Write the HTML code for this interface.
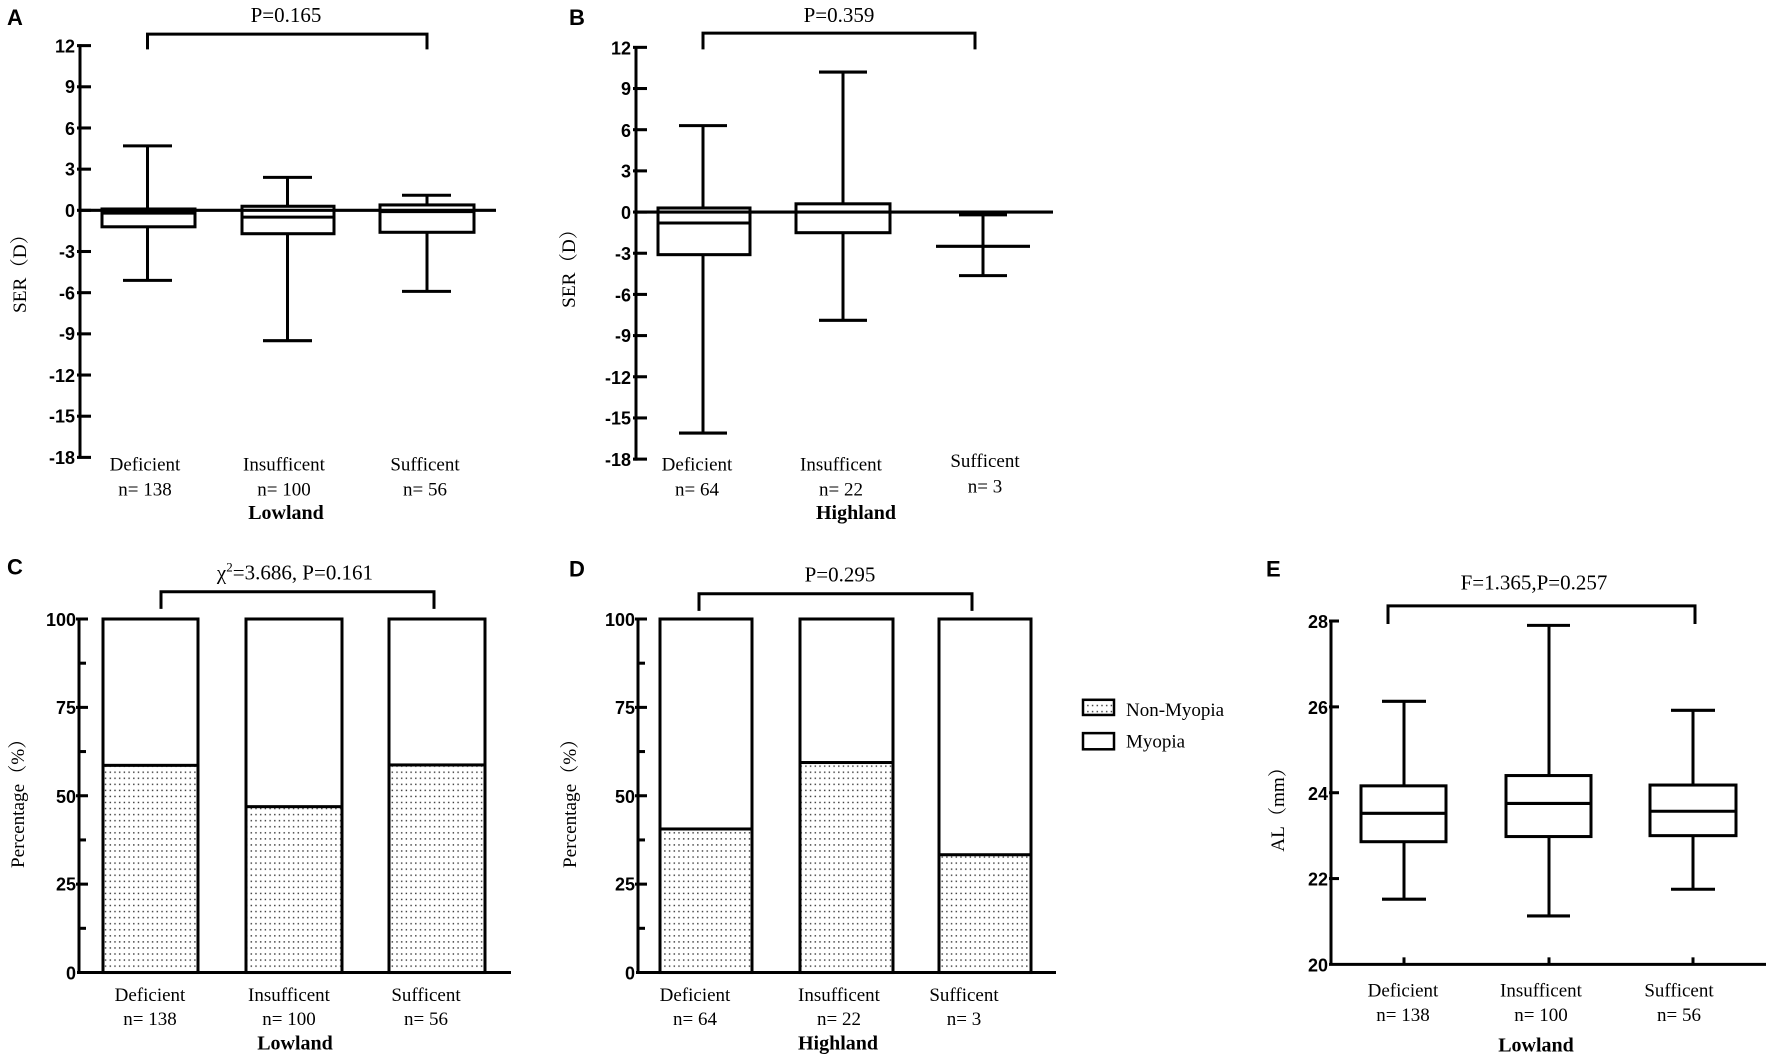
<!DOCTYPE html>
<html><head><meta charset="utf-8"><style>
html,body{margin:0;padding:0;background:#fff}
svg{display:block}
.t{font-family:"Liberation Sans",Arial,sans-serif;font-weight:bold;font-size:18px;fill:#000}
.s{font-family:"Liberation Serif","Noto Serif CJK SC",serif;font-size:19px;fill:#000}
.sb{font-family:"Liberation Serif","Noto Serif CJK SC",serif;font-size:20px;font-weight:bold;fill:#000}
.p{font-family:"Liberation Serif","Noto Serif CJK SC",serif;font-size:21px;fill:#000}
.L{font-family:"Liberation Sans",Arial,sans-serif;font-weight:bold;font-size:22px;fill:#000}
.k{stroke:#000;stroke-width:3;fill:none}
.b{stroke:#000;stroke-width:3;fill:#fff}
</style></head><body>
<svg width="1772" height="1059" viewBox="0 0 1772 1059" xmlns="http://www.w3.org/2000/svg">
<defs>
<pattern id="dots" width="4.7" height="6" patternUnits="userSpaceOnUse">
<rect width="4.7" height="6" fill="#fff"/>
<rect x="1.5" y="2" width="1.4" height="1.4" fill="#333"/>
</pattern>
</defs>

<g transform="matrix(1 0 0 1.0167 0 1.6)">
<!-- ============ Panel A ============ -->
<text x="7" y="23" class="L">A</text>
<text x="286" y="20" class="p" text-anchor="middle">P=0.165</text>
<path d="M147.5,47 V32 H427 V47" class="k" stroke-width="2.5"/>
<g class="k">
<line x1="80" y1="42" x2="80" y2="449.5"/>
<line x1="77" y1="43.3" x2="91" y2="43.3"/><line x1="77" y1="83.8" x2="91" y2="83.8"/><line x1="77" y1="124.3" x2="91" y2="124.3"/><line x1="77" y1="164.8" x2="91" y2="164.8"/><line x1="77" y1="205.3" x2="91" y2="205.3"/><line x1="77" y1="245.8" x2="91" y2="245.8"/><line x1="77" y1="286.3" x2="91" y2="286.3"/><line x1="77" y1="326.8" x2="91" y2="326.8"/><line x1="77" y1="367.3" x2="91" y2="367.3"/><line x1="77" y1="407.8" x2="91" y2="407.8"/><line x1="77" y1="448.3" x2="91" y2="448.3"/>
</g>
<g class="t" text-anchor="end">
<text x="75" y="50">12</text><text x="75" y="90">9</text><text x="75" y="131">6</text><text x="75" y="171">3</text><text x="75" y="212">0</text><text x="75" y="252">-3</text><text x="75" y="293">-6</text><text x="75" y="333">-9</text><text x="75" y="374">-12</text><text x="75" y="414">-15</text><text x="75" y="455">-18</text>
</g>
<text class="s" transform="translate(26,263) rotate(-90)" text-anchor="middle">SER（D）</text>
<g class="k">
<line x1="147.5" y1="141.9" x2="147.5" y2="274.2"/><line x1="123" y1="141.9" x2="172" y2="141.9"/><line x1="123" y1="274.2" x2="172" y2="274.2"/>
<rect x="102" y="204" width="93" height="17.5" class="b"/><line x1="102" y1="208" x2="195" y2="208"/>
<line x1="287.5" y1="172.9" x2="287.5" y2="333.5"/><line x1="263" y1="172.9" x2="312" y2="172.9"/><line x1="263" y1="333.5" x2="312" y2="333.5"/>
<rect x="242" y="201.3" width="92" height="27" class="b"/><line x1="242" y1="212" x2="334" y2="212"/>
<line x1="427" y1="190.5" x2="427" y2="285"/><line x1="402" y1="190.5" x2="451" y2="190.5"/><line x1="402" y1="285" x2="451" y2="285"/>
<rect x="380" y="200" width="94" height="26.9" class="b"/><line x1="380" y1="206.6" x2="474" y2="206.6"/>
<line x1="80" y1="205.3" x2="496" y2="205.3"/>
</g>
<g class="s" text-anchor="middle">
<text x="145" y="461">Deficient</text><text x="145" y="486">n= 138</text>
<text x="284" y="461">Insufficent</text><text x="284" y="486">n= 100</text>
<text x="425" y="461">Sufficent</text><text x="425" y="486">n= 56</text>
</g>
<text x="286" y="509" class="sb" text-anchor="middle">Lowland</text>

<!-- ============ Panel B ============ -->
<text x="569" y="23" class="L">B</text>
<text x="839" y="20" class="p" text-anchor="middle">P=0.359</text>
<path d="M703,47 V31 H975 V47" class="k" stroke-width="2.5"/>
<g class="k">
<line x1="636" y1="44" x2="636" y2="451.5"/>
<line x1="633" y1="45" x2="647" y2="45"/><line x1="633" y1="85.5" x2="647" y2="85.5"/><line x1="633" y1="126" x2="647" y2="126"/><line x1="633" y1="166.5" x2="647" y2="166.5"/><line x1="633" y1="207" x2="647" y2="207"/><line x1="633" y1="247.5" x2="647" y2="247.5"/><line x1="633" y1="288" x2="647" y2="288"/><line x1="633" y1="328.5" x2="647" y2="328.5"/><line x1="633" y1="369" x2="647" y2="369"/><line x1="633" y1="409.5" x2="647" y2="409.5"/><line x1="633" y1="450" x2="647" y2="450"/>
</g>
<g class="t" text-anchor="end">
<text x="631" y="52">12</text><text x="631" y="92">9</text><text x="631" y="133">6</text><text x="631" y="173">3</text><text x="631" y="214">0</text><text x="631" y="254">-3</text><text x="631" y="295">-6</text><text x="631" y="335">-9</text><text x="631" y="376">-12</text><text x="631" y="416">-15</text><text x="631" y="457">-18</text>
</g>
<text class="s" transform="translate(575,258) rotate(-90)" text-anchor="middle">SER（D）</text>
<g class="k">
<line x1="703" y1="122" x2="703" y2="424.4"/><line x1="679" y1="122" x2="727" y2="122"/><line x1="679" y1="424.4" x2="727" y2="424.4"/>
<rect x="658" y="203" width="92" height="45.9" class="b"/><line x1="658" y1="217.8" x2="750" y2="217.8"/>
<line x1="843" y1="69.3" x2="843" y2="313.5"/><line x1="819" y1="69.3" x2="867" y2="69.3"/><line x1="819" y1="313.5" x2="867" y2="313.5"/>
<rect x="796" y="198.9" width="94" height="28.4" class="b"/>
<line x1="983" y1="209.7" x2="983" y2="269.5"/><line x1="959" y1="209.7" x2="1007" y2="209.7"/><line x1="959" y1="269.5" x2="1007" y2="269.5"/><line x1="936" y1="240.7" x2="1030" y2="240.7"/>
<line x1="636" y1="207" x2="1053" y2="207"/>
</g>
<g class="s" text-anchor="middle">
<text x="697" y="461">Deficient</text><text x="697" y="486">n= 64</text>
<text x="841" y="461">Insufficent</text><text x="841" y="486">n= 22</text>
<text x="985" y="458">Sufficent</text><text x="985" y="483">n= 3</text>
</g>
<text x="856" y="509" class="sb" text-anchor="middle">Highland</text>
</g>

<g transform="matrix(1 0 0 1.01 0 -6.19)">
<!-- ============ Panel C ============ -->
<text x="7" y="575" class="L">C</text>
<text x="295" y="580" class="p" text-anchor="middle">χ<tspan dy="-8" font-size="13">2</tspan><tspan dy="8">=3.686,  P=0.161</tspan></text>
<path d="M161,609 V592 H434 V609" class="k" stroke-width="2.5"/>
<g class="k">
<rect x="103" y="619" width="95" height="350" class="b"/>
<rect x="103" y="763.9" width="95" height="205.1" fill="url(#dots)" stroke="#000" stroke-width="3"/>
<rect x="246" y="619" width="96" height="350" class="b"/>
<rect x="246" y="804.8" width="96" height="164.2" fill="url(#dots)" stroke="#000" stroke-width="3"/>
<rect x="389" y="619" width="96" height="350" class="b"/>
<rect x="389" y="763.5" width="96" height="205.5" fill="url(#dots)" stroke="#000" stroke-width="3"/>
<line x1="79" y1="617.5" x2="79" y2="969"/>
<line x1="77" y1="969" x2="511" y2="969"/>
<line x1="76" y1="619" x2="88" y2="619"/><line x1="76" y1="706.5" x2="88" y2="706.5"/><line x1="76" y1="794" x2="88" y2="794"/><line x1="76" y1="881.5" x2="88" y2="881.5"/>
<line x1="79" y1="662.75" x2="86" y2="662.75"/><line x1="79" y1="750.25" x2="86" y2="750.25"/><line x1="79" y1="837.75" x2="86" y2="837.75"/><line x1="79" y1="925.25" x2="86" y2="925.25"/>
</g>
<g class="t" text-anchor="end">
<text x="76" y="626">100</text><text x="76" y="713">75</text><text x="76" y="801">50</text><text x="76" y="888">25</text><text x="76" y="976">0</text>
</g>
<text class="s" transform="translate(24,797) rotate(-90)" text-anchor="middle">Percentage（%）</text>
<g class="s" text-anchor="middle">
<text x="150" y="997">Deficient</text><text x="150" y="1021">n= 138</text>
<text x="289" y="997">Insufficent</text><text x="289" y="1021">n= 100</text>
<text x="426" y="997">Sufficent</text><text x="426" y="1021">n= 56</text>
</g>
<text x="295" y="1045" class="sb" text-anchor="middle">Lowland</text>

<!-- ============ Panel D ============ -->
<text x="569" y="577" class="L">D</text>
<text x="840" y="582" class="p" text-anchor="middle">P=0.295</text>
<path d="M699,611 V594 H972 V611" class="k" stroke-width="2.5"/>
<g class="k">
<rect x="660" y="619" width="92" height="350" class="b"/>
<rect x="660" y="826.9" width="92" height="142.1" fill="url(#dots)" stroke="#000" stroke-width="3"/>
<rect x="800" y="619" width="93" height="350" class="b"/>
<rect x="800" y="761.1" width="93" height="207.9" fill="url(#dots)" stroke="#000" stroke-width="3"/>
<rect x="939" y="619" width="92" height="350" class="b"/>
<rect x="939" y="852.4" width="92" height="116.6" fill="url(#dots)" stroke="#000" stroke-width="3"/>
<line x1="638" y1="617.5" x2="638" y2="969"/>
<line x1="636" y1="969" x2="1056" y2="969"/>
<line x1="635" y1="619" x2="647" y2="619"/><line x1="635" y1="706.5" x2="647" y2="706.5"/><line x1="635" y1="794" x2="647" y2="794"/><line x1="635" y1="881.5" x2="647" y2="881.5"/>
<line x1="638" y1="662.75" x2="645" y2="662.75"/><line x1="638" y1="750.25" x2="645" y2="750.25"/><line x1="638" y1="837.75" x2="645" y2="837.75"/><line x1="638" y1="925.25" x2="645" y2="925.25"/>
</g>
<g class="t" text-anchor="end">
<text x="635" y="626">100</text><text x="635" y="713">75</text><text x="635" y="801">50</text><text x="635" y="888">25</text><text x="635" y="976">0</text>
</g>
<text class="s" transform="translate(576,797) rotate(-90)" text-anchor="middle">Percentage（%）</text>
<g class="s" text-anchor="middle">
<text x="695" y="997">Deficient</text><text x="695" y="1021">n= 64</text>
<text x="839" y="997">Insufficent</text><text x="839" y="1021">n= 22</text>
<text x="964" y="997">Sufficent</text><text x="964" y="1021">n= 3</text>
</g>
<text x="838" y="1045" class="sb" text-anchor="middle">Highland</text>

<!-- legend -->
<rect x="1083" y="699" width="31" height="15" fill="url(#dots)" stroke="#000" stroke-width="2.5"/>
<rect x="1083" y="732" width="31" height="16" fill="#fff" stroke="#000" stroke-width="2.5"/>
<text x="1126" y="715" class="s">Non-Myopia</text>
<text x="1126" y="746" class="s">Myopia</text>

<!-- ============ Panel E ============ -->
<text x="1266" y="577" class="L">E</text>
<text x="1534" y="590" class="p" text-anchor="middle">F=1.365,P=0.257</text>
<path d="M1388,624 V606 H1695 V624" class="k" stroke-width="2.5"/>
<g class="k">
<line x1="1331" y1="620" x2="1331" y2="961"/>
<line x1="1329" y1="961" x2="1766" y2="961"/>
<line x1="1329" y1="621" x2="1339" y2="621"/><line x1="1329" y1="706" x2="1339" y2="706"/><line x1="1329" y1="791" x2="1339" y2="791"/><line x1="1329" y1="876" x2="1339" y2="876"/>
<line x1="1404" y1="954" x2="1404" y2="961"/><line x1="1549" y1="954" x2="1549" y2="961"/><line x1="1693" y1="954" x2="1693" y2="961"/>
<line x1="1404" y1="700.5" x2="1404" y2="896.4"/><line x1="1382" y1="700.5" x2="1426" y2="700.5"/><line x1="1382" y1="896.4" x2="1426" y2="896.4"/>
<rect x="1361" y="784.2" width="85" height="55.3" class="b"/><line x1="1361" y1="811.4" x2="1446" y2="811.4"/>
<line x1="1549" y1="625.3" x2="1549" y2="913"/><line x1="1527" y1="625.3" x2="1570" y2="625.3"/><line x1="1527" y1="913" x2="1570" y2="913"/>
<rect x="1506" y="774" width="85" height="60.4" class="b"/><line x1="1506" y1="801.6" x2="1591" y2="801.6"/>
<line x1="1693" y1="709.4" x2="1693" y2="886.6"/><line x1="1671" y1="709.4" x2="1715" y2="709.4"/><line x1="1671" y1="886.6" x2="1715" y2="886.6"/>
<rect x="1650" y="783.4" width="86" height="50.1" class="b"/><line x1="1650" y1="809.3" x2="1736" y2="809.3"/>
</g>
<g class="t" text-anchor="end">
<text x="1328" y="628">28</text><text x="1328" y="713">26</text><text x="1328" y="798">24</text><text x="1328" y="883">22</text><text x="1328" y="968">20</text>
</g>
<text class="s" transform="translate(1284,803) rotate(-90)" text-anchor="middle">AL（mm）</text>
<g class="s" text-anchor="middle">
<text x="1403" y="993">Deficient</text><text x="1403" y="1017">n= 138</text>
<text x="1541" y="993">Insufficent</text><text x="1541" y="1017">n= 100</text>
<text x="1679" y="993">Sufficent</text><text x="1679" y="1017">n= 56</text>
</g>
<text x="1536" y="1047" class="sb" text-anchor="middle">Lowland</text>
</g>
</svg>
</body></html>
